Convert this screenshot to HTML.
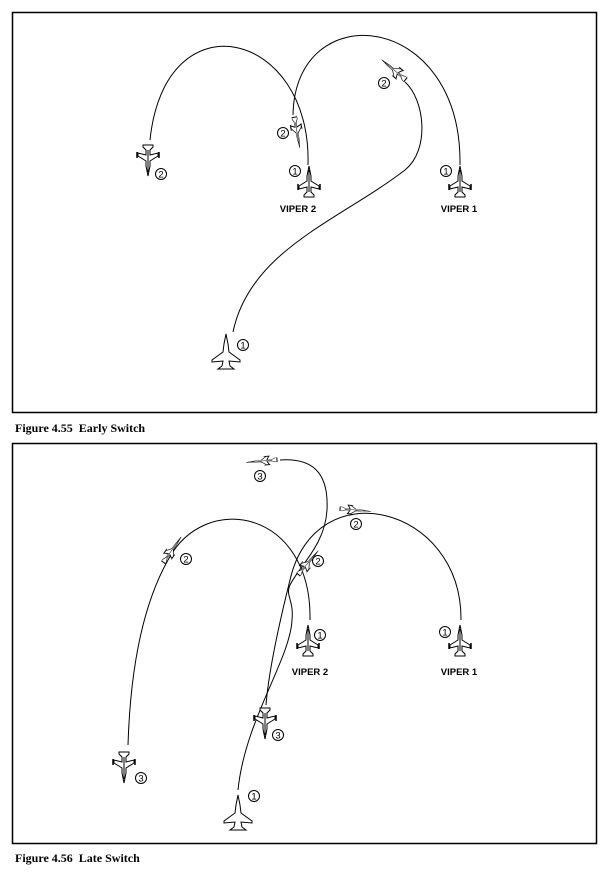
<!DOCTYPE html>
<html><head><style>
html,body{margin:0;padding:0;background:#fff;}
svg{display:block}
</style></head><body>
<svg width="608" height="878" viewBox="0 0 608 878" xmlns="http://www.w3.org/2000/svg" font-family="Liberation Sans, sans-serif">
<defs>
<g id="jet">
<path d="M0,-16 L2,-6 L2,-1 L10,4 L10,7 L2,5 L2,10 L5,13 L5,15 L-5,15 L-5,13 L-2,10 L-2,5 L-10,7 L-10,4 L-2,-1 L-2,-6 Z" fill="#fff" stroke="#000" stroke-width="1"/>
<line x1="0" y1="-12" x2="0" y2="10" stroke="#000" stroke-width="1"/>
<line x1="-11" y1="2" x2="-11" y2="8" stroke="#000" stroke-width="1.5"/>
<line x1="11" y1="2" x2="11" y2="8" stroke="#000" stroke-width="1.5"/>
</g>
<g id="mig">
<path d="M0,-18 L2,-8 L3,0 L14,8 L14,10 L3,9 L4,14 L8,17 L-8,17 L-4,14 L-3,9 L-14,10 L-14,8 L-3,0 L-2,-8 Z" fill="#fff" stroke="#000" stroke-width="1"/>
</g>
</defs>
<rect x="12.5" y="12.5" width="584" height="400" fill="none" stroke="#000" stroke-width="1.5"/>
<rect x="12.5" y="443.5" width="584" height="400" fill="none" stroke="#000" stroke-width="1.5"/>
<g fill="none" stroke="#000" stroke-width="1">
<path d="M308,165 C312,30 165,-5 150,140"/>
<path d="M460,165 C462,10 295,-5 293,115"/>
<path d="M233,332 C250,250 340,220 405,170 C430,150 425,100 405,82"/>
<path d="M310,620 C312,510 205,490 168,560 C140,610 130,680 128,745"/>
<path d="M461,620 C462,505 315,470 290,580 C275,640 268,680 266,705"/>
<path d="M238,790 C245,720 290,660 292,620 C294,600 285,595 290,585 C300,565 325,545 327,510 C329,470 310,458 280,460"/>
</g>
<use href="#jet" transform="translate(309,182)"/>
<use href="#jet" transform="translate(460,182)"/>
<use href="#jet" transform="translate(148,160) rotate(180) scale(1,1)"/>
<use href="#jet" transform="translate(297,132) rotate(170) scale(0.5,1)"/>
<use href="#jet" transform="translate(394,70) rotate(-50) scale(0.5,1)"/>
<use href="#mig" transform="translate(226,352)"/>
<use href="#jet" transform="translate(308,641)"/>
<use href="#jet" transform="translate(460,641)"/>
<use href="#jet" transform="translate(124,767) rotate(180)"/>
<use href="#jet" transform="translate(265,723) rotate(180)"/>
<use href="#jet" transform="translate(172,550) rotate(35) scale(0.45,1)"/>
<use href="#jet" transform="translate(308,563) rotate(40) scale(0.45,1)"/>
<use href="#jet" transform="translate(355,510) rotate(95) scale(0.4,1)"/>
<use href="#jet" transform="translate(262,461) rotate(-95) scale(0.4,1)"/>
<use href="#mig" transform="translate(238,813)"/>
<g font-size="9.5" text-anchor="middle" stroke="none">
<g fill="none" stroke="#000" stroke-width="1">
<circle cx="295" cy="171" r="5.5"/><circle cx="446" cy="171" r="5.5"/><circle cx="161" cy="174" r="5.5"/><circle cx="283" cy="133" r="5.5"/><circle cx="384" cy="83" r="5.5"/><circle cx="243" cy="345" r="5.5"/>
<circle cx="320" cy="635" r="5.5"/><circle cx="445" cy="632" r="5.5"/><circle cx="141" cy="778" r="5.5"/><circle cx="278" cy="735" r="5.5"/><circle cx="186" cy="559" r="5.5"/><circle cx="318" cy="561" r="5.5"/><circle cx="356" cy="524" r="5.5"/><circle cx="260" cy="476" r="5.5"/><circle cx="254" cy="796" r="5.5"/>
</g>
<text x="295" y="174.5">1</text><text x="446" y="174.5">1</text><text x="161" y="177.5">2</text><text x="283" y="136.5">2</text><text x="384" y="86.5">2</text><text x="243" y="348.5">1</text>
<text x="320" y="638.5">1</text><text x="445" y="635.5">1</text><text x="141" y="781.5">3</text><text x="278" y="738.5">3</text><text x="186" y="562.5">2</text><text x="318" y="564.5">2</text><text x="356" y="527.5">2</text><text x="260" y="479.5">3</text><text x="254" y="799.5">1</text>
</g>
<g font-size="9.5" font-weight="bold" text-anchor="middle">
<text x="298" y="212">VIPER 2</text><text x="459" y="212">VIPER 1</text>
<text x="310" y="675">VIPER 2</text><text x="459" y="675">VIPER 1</text>
</g>
<g font-family="Liberation Serif, serif" font-weight="bold" font-size="12">
<text x="15" y="432">Figure 4.55&#160; Early Switch</text>
<text x="15" y="862">Figure 4.56&#160; Late Switch</text>
</g>
</svg>
</body></html>
